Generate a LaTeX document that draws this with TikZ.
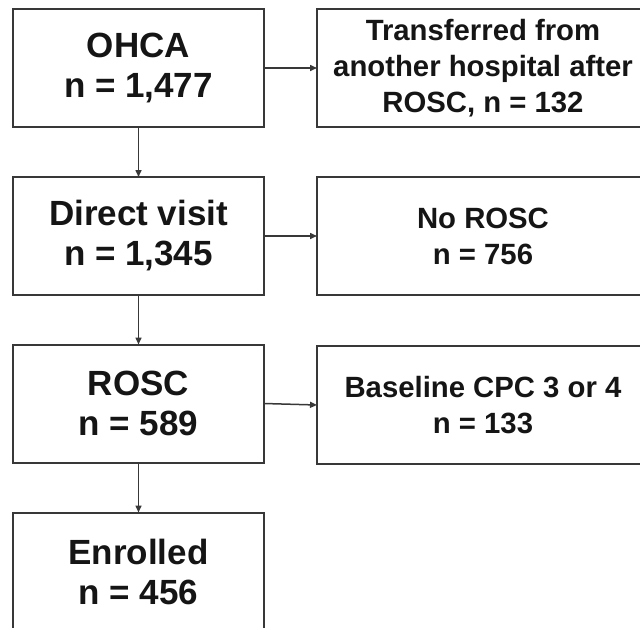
\documentclass[tikz,border=0pt]{standalone}
\usepackage{fontspec}
\setmainfont{Liberation Sans}
\usetikzlibrary{arrows.meta}
\definecolor{boxline}{HTML}{383838}
\definecolor{txt}{HTML}{151515}
\tikzset{
  lbox/.style={draw=boxline, line width=2pt, minimum width=251pt, minimum height=118pt,
    inner sep=0pt, outer sep=0pt, align=center, text=txt,
    font=\bfseries\fontsize{35}{40}\selectfont},
  rbox/.style={draw=boxline, line width=2pt, minimum width=332pt, minimum height=118pt,
    inner sep=0pt, outer sep=0pt, align=center, text=txt,
    font=\bfseries\fontsize{29.3}{36}\selectfont},
  conn/.style={draw=boxline, line width=1.5pt, -{Triangle[length=7pt,width=6pt]}}
}
\begin{document}
\begin{tikzpicture}[x=1pt,y=-1pt]
\useasboundingbox (0,0) rectangle (640,627);
\fill[white] (0,0) rectangle (640,627);
\clip (0,0) rectangle (640,627);
\node[lbox] (ohca) at (138.5,68) {OHCA\\n = 1,477};
\node[lbox] (direct) at (138.5,236) {Direct visit\\n = 1,345};
\node[lbox] (rosc) at (138.5,403.5) {ROSC\\n = 589};
\node[lbox] (enr) at (138.5,571.5) {Enrolled\\n = 456};
\node[rbox] (trans) at (483,68) {Transferred from\\another hospital after\\ROSC, n = 132};
\node[rbox] (norosc) at (483,236) {No ROSC\\n = 756};
\node[rbox] (cpc) at (483,405) {Baseline CPC 3 or 4\\n = 133};
\draw[conn] (ohca.south) -- (direct.north);
\draw[conn] (direct.south) -- (rosc.north);
\draw[conn] (rosc.south) -- (enr.north);
\draw[conn] (ohca.east) -- (trans.west);
\draw[conn] (direct.east) -- (norosc.west);
\draw[conn] (rosc.east) -- (cpc.west);
\end{tikzpicture}
\end{document}
